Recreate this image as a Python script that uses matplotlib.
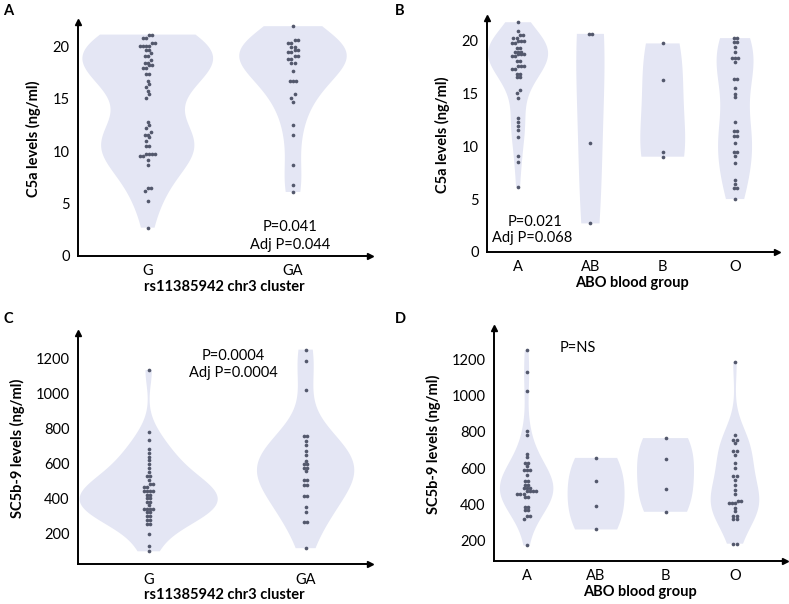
import numpy as np
import matplotlib.pyplot as plt

plt.rcParams['font.family'] = ['Lato', 'DejaVu Sans']

# ----- data -----
snp_groups = ['G', 'GA']
abo_groups = ['A', 'AB', 'B', 'O']

c5a_G = [21.1, 21.1, 20.8, 20.8, 20.3, 20.3, 20.0, 20.0, 20.0, 20.0, 19.6, 19.6,
         19.3, 19.05, 19.05, 18.7, 18.4, 18.4, 18.2, 18.2, 17.9, 17.9, 17.3, 17.3,
         16.7, 16.4, 16.1, 15.7, 15.4, 15.1, 12.8, 12.5, 12.2, 11.8, 11.5, 11.5,
         11.3, 11.0, 10.5, 10.5, 9.7, 9.7, 9.7, 9.7, 9.5, 9.5, 9.1, 8.7, 6.5, 6.5,
         6.2, 5.2, 2.7]
c5a_GA = [21.9, 20.6, 20.6, 20.3, 20.3, 19.9, 19.9, 19.6, 19.6, 19.4, 19.4, 19.1,
          19.1, 18.8, 18.8, 18.4, 18.4, 17.65, 16.7, 16.7, 16.7, 15.4, 15.1, 14.7,
          12.5, 11.55, 8.7, 6.8, 6.1]

c5a_A = [21.7, 20.9, 20.5, 20.5, 20.2, 20.2, 19.9, 19.9, 19.9, 19.7, 19.7, 19.3,
         19.3, 18.9, 18.9, 18.9, 18.7, 18.7, 18.7, 18.5, 18.5, 18.05, 18.05, 17.6,
         17.6, 17.6, 17.3, 17.3, 16.85, 16.85, 16.5, 16.5, 15.3, 15.0, 14.5, 12.7,
         12.3, 11.9, 11.5, 10.9, 9.1, 8.5, 6.1]
c5a_AB = [20.6, 20.6, 10.3, 2.7]
c5a_B = [19.7, 16.2, 9.45, 9.0]
c5a_O = [20.2, 20.2, 19.85, 19.85, 19.4, 18.9, 18.3, 18.3, 18.3, 17.9, 16.3, 16.3,
         15.5, 14.96, 14.6, 12.3, 11.4, 11.4, 11.0, 11.0, 10.3, 9.45, 9.45, 9.1,
         8.4, 6.8, 6.45, 6.0, 6.0, 5.0]

sc5b9_G = [1136, 780, 739, 682, 661, 640, 620, 599, 576, 553, 531, 531, 506, 485,
           485, 467, 467, 446, 446, 446, 446, 421, 421, 402, 402, 383, 383, 364,
           342, 342, 342, 342, 323, 323, 304, 304, 279, 279, 255, 255, 198, 128, 100]
sc5b9_GA = [1253, 1187, 1020, 761, 761, 733, 705, 673, 648, 616, 597, 597, 578,
            578, 557, 506, 506, 478, 478, 417, 417, 355, 327, 266, 266, 118]

sc5b9_A = [1252, 1135, 1030, 803, 785, 680, 661, 628, 628, 610, 587, 587, 587, 563,
           527, 527, 508, 508, 490, 490, 490, 471, 471, 471, 471, 458, 458, 458,
           440, 440, 385, 385, 366, 366, 333, 333, 318, 170]
sc5b9_AB = [656, 527, 388, 259]
sc5b9_B = [766, 650, 486, 357]
sc5b9_O = [1187, 785, 757, 757, 739, 693, 693, 674, 628, 600, 558, 558, 536, 508,
           480, 453, 416, 416, 407, 407, 407, 379, 361, 333, 333, 315, 315, 180, 180]

VIOLIN = '#E4E6F4'
DOT = '#53586C'


def swarm(ax, x0, vals, ybin_px=3.2, dx_px=3.1):
    vals = np.sort(np.asarray(vals, dtype=float))
    pix = ax.transData.transform(np.column_stack([np.full(len(vals), x0), vals]))
    groups, cur = [], [0]
    for i in range(1, len(vals)):
        if abs(pix[i, 1] - pix[cur[0], 1]) < ybin_px:
            cur.append(i)
        else:
            groups.append(cur)
            cur = [i]
    groups.append(cur)
    for g in groups:
        k = len(g)
        for j, idx in enumerate(g):
            pix[idx, 0] += (j - (k - 1) / 2) * dx_px
    pts = ax.transData.inverted().transform(pix)
    ax.scatter(pts[:, 0], pts[:, 1], s=7, color=DOT, zorder=3, linewidths=0)


def panel(rect, letter, letter_xy, cats, data, widths, xlim, ylim, yticks,
          xlabel, ylabel):
    ax = fig.add_axes(rect)
    ax.set_xlim(*xlim)
    ax.set_ylim(*ylim)
    pos = list(range(len(cats)))
    parts = ax.violinplot(data, positions=pos, widths=widths,
                          showextrema=False)
    for b in parts['bodies']:
        b.set_facecolor(VIOLIN)
        b.set_edgecolor('none')
        b.set_alpha(1)
    for p, d in zip(pos, data):
        swarm(ax, p, d)
    ax.set_xticks(pos)
    ax.set_xticklabels(cats)
    ax.set_yticks(yticks)
    ax.tick_params(length=0, labelsize=10.5, pad=6)
    ax.tick_params(axis='y', pad=6)
    for s in ['top', 'right']:
        ax.spines[s].set_visible(False)
    for s in ['left', 'bottom']:
        ax.spines[s].set_linewidth(1.4)
    ax.plot(1, 0, '>k', ms=5, transform=ax.transAxes, clip_on=False)
    ax.plot(0, 1, '^k', ms=5, transform=ax.transAxes, clip_on=False)
    ax.set_xlabel(xlabel, fontsize=10.5, fontweight='bold', labelpad=1)
    ax.set_ylabel(ylabel, fontsize=10.5, fontweight='bold', labelpad=8)
    fig.text(letter_xy[0], letter_xy[1], letter, fontsize=10.5,
             fontweight='bold', va='top')
    return ax


fig = plt.figure(figsize=(7.89, 6.04), dpi=100)

axA = panel([0.0989, 0.5762, 0.370, 0.3874], 'A', (0.004, 0.993),
            snp_groups, [c5a_G, c5a_GA], [0.9, 0.74], (-0.48, 1.53), (0, 22.3),
            [0, 5, 10, 15, 20], 'rs11385942 chr3 cluster', 'C5a levels (ng/ml)')
axA.text(0.98, 2.75, 'P=0.041', ha='center', va='center', fontsize=10.5)
axA.text(0.98, 1.05, 'Adj P=0.044', ha='center', va='center', fontsize=10.5)

axB = panel([0.6172, 0.5828, 0.3676, 0.3874], 'B', (0.5, 0.993),
            abo_groups, [c5a_A, c5a_AB, c5a_B, c5a_O], [0.83, 0.39, 0.62, 0.51],
            (-0.43, 3.58), (0, 22.1), [0, 5, 10, 15, 20],
            'ABO blood group', 'C5a levels (ng/ml)')
axB.text(0.24, 2.8, 'P=0.021', ha='center', va='center', fontsize=10.5)
axB.text(0.2, 1.3, 'Adj P=0.068', ha='center', va='center', fontsize=10.5)

axC = panel([0.0989, 0.0655, 0.370, 0.3832], 'C', (0.004, 0.483),
            snp_groups, [sc5b9_G, sc5b9_GA], [0.88, 0.62], (-0.45, 1.41),
            (25, 1348), [200, 400, 600, 800, 1000, 1200],
            'rs11385942 chr3 cluster', 'SC5b-9 levels (ng/ml)')
axC.text(0.54, 1215, 'P=0.0004', ha='center', va='center', fontsize=10.5)
axC.text(0.54, 1119, 'Adj P=0.0004', ha='center', va='center', fontsize=10.5)

axD = panel([0.6261, 0.0715, 0.3688, 0.3855], 'D', (0.5, 0.483),
            abo_groups, [sc5b9_A, sc5b9_AB, sc5b9_B, sc5b9_O],
            [0.77, 0.82, 0.82, 0.70], (-0.47, 3.72), (85, 1377),
            [200, 400, 600, 800, 1000, 1200],
            'ABO blood group', 'SC5b-9 levels (ng/ml)')
axD.text(0.73, 1266, 'P=NS', ha='center', va='center', fontsize=10.5)

fig.savefig('out.png', dpi=100)
